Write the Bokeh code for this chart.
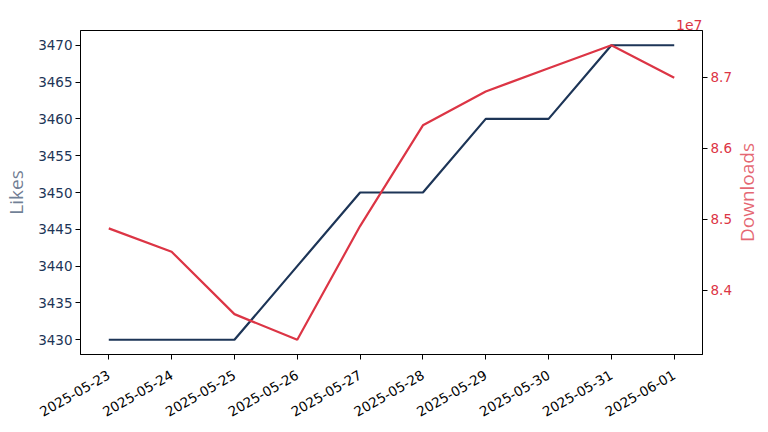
import math
import pandas as pd
from bokeh.plotting import figure
from bokeh.models import (Range1d, LinearAxis, FixedTicker, DatetimeTickFormatter,
                          CustomJSTickFormatter, ColumnDataSource, Label)
from bokeh.embed import file_html
from bokeh.resources import INLINE

# ---- data ----
dates = ["2025-05-23", "2025-05-24", "2025-05-25", "2025-05-26", "2025-05-27",
         "2025-05-28", "2025-05-29", "2025-05-30", "2025-05-31", "2025-06-01"]
likes = [3430, 3430, 3430, 3440, 3450, 3450, 3460, 3460, 3470, 3470]
downloads = [84875000, 84546000, 83667000, 83306000, 84907000,
             86326000, 86803000, 87131000, 87454000, 86996000]
likes_ticks = [3430, 3435, 3440, 3445, 3450, 3455, 3460, 3465, 3470]
downloads_ticks = [84000000, 85000000, 86000000, 87000000]

NAVY = "#1d3557"
RED = "#dc3545"
FONT = "DejaVu Sans"

x = pd.to_datetime(dates)
src = ColumnDataSource(dict(x=x, likes=likes, downloads=downloads))

day = pd.Timedelta(days=1)
pad = 0.45 * day
xr = Range1d(x[0] - pad, x[-1] + pad)

lmin, lmax = min(likes), max(likes)
lpad = 0.05 * (lmax - lmin)
dmin, dmax = min(downloads), max(downloads)
dpad = 0.05 * (dmax - dmin)

p = figure(width=760, height=424, x_axis_type="datetime", x_range=xr,
           y_range=Range1d(lmin - lpad, lmax + lpad),
           output_backend="svg", toolbar_location=None,
           min_border_left=79, min_border_right=58, min_border_top=30,
           min_border_bottom=70)
p.extra_y_ranges = {"dl": Range1d(dmin - dpad, dmax + dpad)}

p.grid.visible = False
p.outline_line_color = "black"
p.outline_line_width = 1
p.background_fill_color = "white"
p.border_fill_color = "white"

p.title.text = "1e7"
p.title.align = "right"
p.title.text_color = RED
p.title.text_font = FONT
p.title.text_font_size = "14px"
p.title.text_font_style = "normal"
p.title.standoff = 2

p.line("x", "likes", source=src, line_color=NAVY, line_width=2.2)
p.line("x", "downloads", source=src, line_color=RED, line_width=2.2, y_range_name="dl")

# x axis
xa = p.xaxis[0]
xa.ticker = FixedTicker(ticks=[t.value // 10**6 for t in x])
fmt = "%Y-%m-%d"
xa.formatter = DatetimeTickFormatter(days=fmt, months=fmt, years=fmt, hours=fmt,
                                     minutes=fmt, seconds=fmt, milliseconds=fmt,
                                     microseconds=fmt, hourmin=fmt, minsec=fmt)
xa.major_label_orientation = math.pi / 6
xa.major_label_text_font = FONT
xa.major_label_text_font_size = "13.5px"
xa.major_label_text_color = "black"

# left axis
ya = p.yaxis[0]
ya.ticker = FixedTicker(ticks=likes_ticks)
ya.axis_label = "Likes"
ya.axis_label_text_font = "Open Sans"
ya.axis_label_text_font_style = "normal"
ya.axis_label_text_font_size = "19px"
ya.axis_label_text_color = NAVY
ya.axis_label_text_alpha = 0.65
ya.axis_label_standoff = 6
ya.major_label_text_color = NAVY
ya.major_label_text_font = FONT
ya.major_label_text_font_size = "13.5px"

# right axis
ra = LinearAxis(y_range_name="dl")
ra.ticker = FixedTicker(ticks=downloads_ticks)
ra.formatter = CustomJSTickFormatter(code="return (tick / 1e7).toFixed(1);")
ra.major_label_text_color = RED
ra.major_label_text_font = FONT
ra.major_label_text_font_size = "13.5px"
p.add_layout(ra, "right")

for ax in (xa, ya, ra):
    ax.axis_line_color = "black"
    ax.major_tick_line_color = "black"
    ax.major_tick_out = 5
    ax.major_tick_in = 0
    ax.minor_tick_line_color = None
    ax.major_label_standoff = 3
xa.major_label_standoff = 14

p.add_layout(Label(x=12, y=162, x_units="screen", y_units="screen",
                   text="Downloads", angle=math.pi / 2, text_align="center",
                   text_baseline="middle", text_color=RED, text_alpha=0.75,
                   text_font="Open Sans", text_font_size="19px"), "right")

open("out.html", "w").write(file_html(p, INLINE))
